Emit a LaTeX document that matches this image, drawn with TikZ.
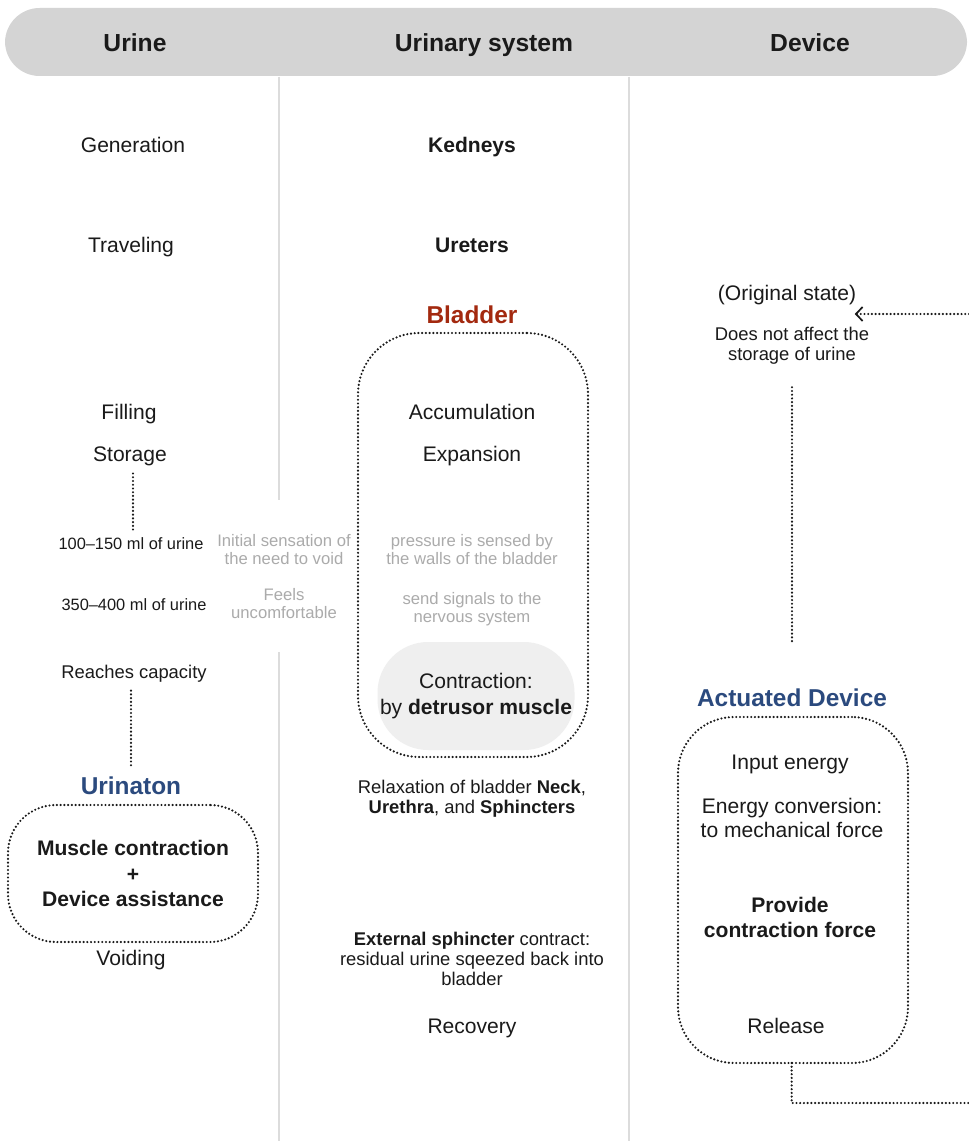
\documentclass[tikz,border=0pt]{standalone}
\usepackage{fontspec}
\setmainfont{Liberation Sans}
\newfontfamily\headfont{Liberation Sans}
\usetikzlibrary{arrows.meta}
\definecolor{hdr}{HTML}{D4D4D4}
\definecolor{sepc}{HTML}{DCDCDC}
\definecolor{ink}{HTML}{1A1A1A}
\definecolor{soft}{HTML}{ABABAB}
\definecolor{navy}{HTML}{2B4A7E}
\definecolor{brick}{HTML}{A3290F}
\definecolor{blob}{HTML}{EFEFEF}
\begin{document}
\begin{tikzpicture}[x=0.75pt,y=-0.75pt,
  every node/.style={inner sep=0pt, outer sep=0pt, align=center, text=ink},
  head/.style={font=\headfont\bfseries\fontsize{18.5}{22}\selectfont, text height=16.2pt, text depth=3pt},
  body/.style={font=\fontsize{15.8}{18}\selectfont, text height=14.3pt, text depth=3pt},
  bodyb/.style={font=\bfseries\fontsize{15.8}{19}\selectfont, text height=14.3pt, text depth=3pt},
  small/.style={font=\fontsize{13.8}{15}\selectfont, text height=12.9pt, text depth=3pt},
  smallm/.style={font=\fontsize{13.8}{15}\selectfont},
  tiny/.style={font=\fontsize{12.3}{15}\selectfont, text height=11.8pt, text depth=3pt},
  grey/.style={font=\fontsize{12.5}{13.5}\selectfont, text=soft},
  ttl/.style={font=\bfseries\fontsize{18.3}{20}\selectfont, text height=16.1pt, text depth=3pt},
  dotline/.style={draw=ink, line width=1.8pt, dash pattern=on 0pt off 2.8pt, line cap=round},
  dotbox/.style={dotline},
  sepline/.style={draw=sepc, line width=1.1pt}
]
\useasboundingbox (0,0) rectangle (969,1141);
\fill[white] (0,0) rectangle (969,1141);

% header
\fill[hdr, rounded corners=26pt] (5,8) rectangle (967,76);
\node[head] (hurine) at (135,43) {Urine};
\node[head] (hsys) at (484,43) {Urinary system};
\node[head] (hdev) at (810,43) {Device};

% column separators
\draw[sepline] (279,77) -- (279,500);
\draw[sepline] (279,652) -- (279,1141);
\draw[sepline] (629,77) -- (629,1141);

% left column
\node[body] (gen) at (133,145) {Generation};
\node[body] (trav) at (131,245) {Traveling};
\node[body] (filling) at (129,412) {Filling};
\node[body] (stor) at (130,454) {Storage};
\node[tiny] (mla) at (131,544) {100–150 ml of urine};
\node[tiny] (mlb) at (134,605) {350–400 ml of urine};
\node[small] (capac) at (134,672) {Reaches capacity};
\node[ttl, text=navy] (urt) at (131,786) {Urinaton};
\node[dotbox, draw, minimum width=187.5pt, minimum height=102.75pt, rounded corners=36pt,
      font=\bfseries\fontsize{15.8}{19}\selectfont] (ubox) at (133,873.5)
      {Muscle contraction\\+\\Device assistance};
\node[body] (void) at (131,958) {Voiding};

\draw[dotline] ([shift={(3,8)}]stor.south) -- ([shift={(3,-4)}]stor.south |- mla.north);
\draw[dotline] ([shift={(-3,8)}]capac.south) -- ([shift={(-3,-6)}]capac.south |- urt.north);

% grey notes
\node[grey] (sens) at (284,550) {Initial sensation of\\the need to void};
\node[grey] (unc) at (284,604) {Feels\\uncomfortable};

% middle column
\node[bodyb] (kid) at (472,145) {Kedneys};
\node[bodyb] (ure) at (472,245) {Ureters};
\node[ttl, text=brick] (blad) at (472,315) {Bladder};
\node[dotbox, draw, minimum width=172.5pt, minimum height=318pt, rounded corners=46pt] (bbox) at (473,545) {};
\node[body] (accu) at (472,412) {Accumulation};
\node[body] (expa) at (472,454) {Expansion};
\node[grey] (press) at (472,550) {pressure is sensed by\\the walls of the bladder};
\node[grey] (sig) at (472,609) {send signals to the\\nervous system};
\node[fill=blob, minimum width=147.75pt, minimum height=81pt, rounded corners=38pt,
      font=\fontsize{15.8}{19.5}\selectfont] (contr) at (476,696)
      {Contraction:\\by \textbf{detrusor muscle}};
\node[smallm] (relax) at (472,799) {Relaxation of bladder \textbf{Neck},\\\textbf{Urethra}, and \textbf{Sphincters}};
\node[smallm] (ext) at (472,959) {\textbf{External sphincter} contract:\\residual urine sqeezed back into\\bladder};
\node[body] (reco) at (472,1026) {Recovery};

% right column
\node[body] (orig) at (787,293) {(Original state)};
\node[smallm] (noeff) at (792,346) {Does not affect the\\storage of urine};
\coordinate (rin) at (969,314);
\draw[dotline, -{Straight Barb[length=5pt, width=10.5pt, line width=1.3pt]}] (rin) -- ([xshift=-1pt]rin -| orig.east);
\node[ttl, text=navy] (act) at (792,698) {Actuated Device};
\draw[dotline] ([yshift=-17pt]noeff.south) -- ([yshift=33pt]noeff.south |- act.north);
\node[dotbox, draw, minimum width=172.5pt, minimum height=259.5pt, rounded corners=42pt] (abox) at (793,890) {};
\node[body] (inp) at (790,762) {Input energy};
\node[font=\fontsize{15.8}{18}\selectfont] (conv) at (792,818) {Energy conversion:\\to mechanical force};
\node[font=\bfseries\fontsize{15.8}{19}\selectfont] (force) at (790,917.5) {Provide\\contraction force};
\node[body] (rel) at (786,1026) {Release};
\coordinate (rout) at (969,1103);
\draw[dotline] ([xshift=-1pt]abox.south) -- ([xshift=-1pt]abox.south |- rout) -- (rout);
\end{tikzpicture}
\end{document}
